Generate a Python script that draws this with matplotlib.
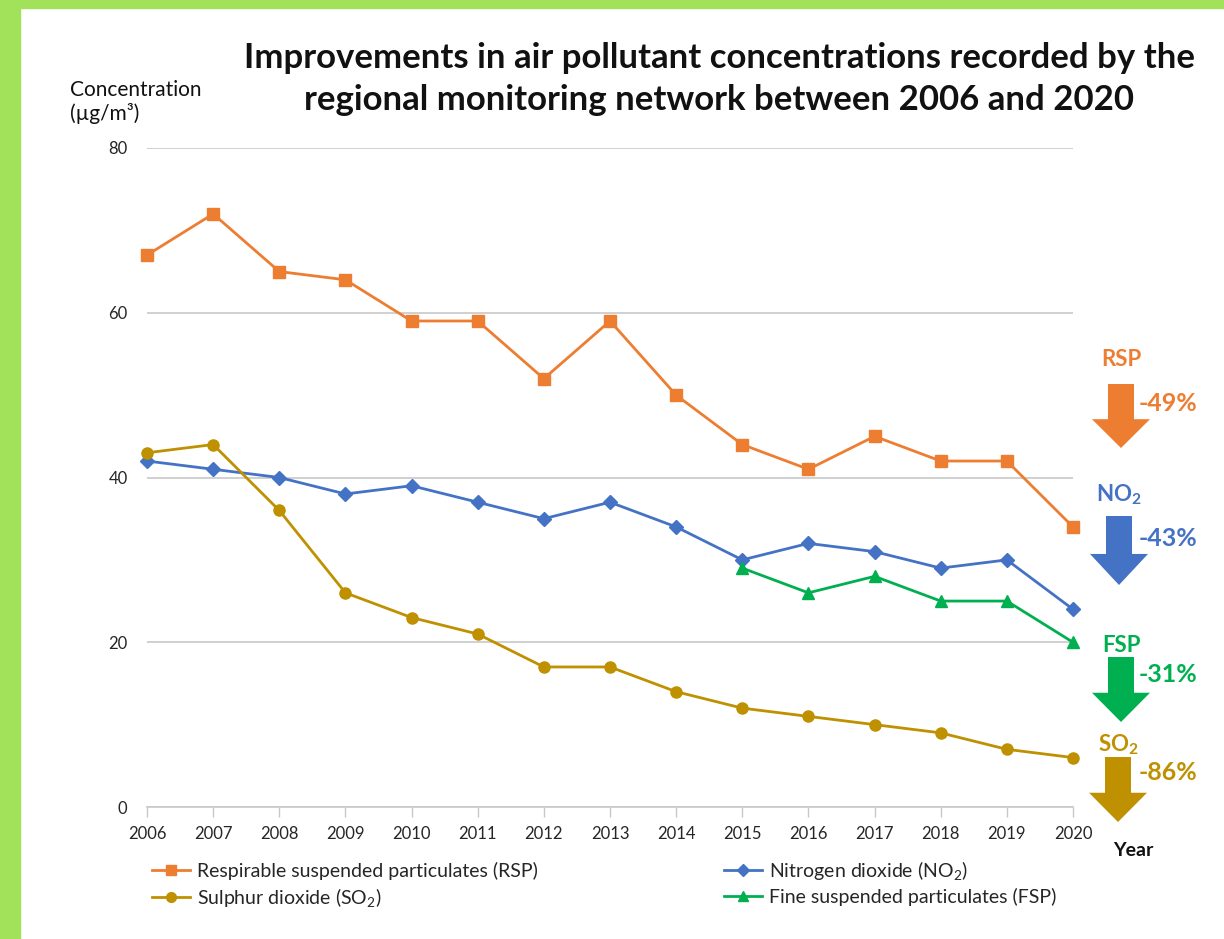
import matplotlib
matplotlib.use("Agg")
import matplotlib.pyplot as plt
from matplotlib.patches import Rectangle, FancyArrow
from matplotlib.lines import Line2D

plt.rcParams['font.family'] = ['Lato', 'DejaVu Sans']
plt.rcParams['mathtext.fontset'] = 'custom'
plt.rcParams['mathtext.rm'] = 'Lato'
plt.rcParams['mathtext.it'] = 'Lato'
plt.rcParams['mathtext.bf'] = 'Lato:bold'

# annual averages, µg/m3
years = list(range(2006, 2021))
rsp = [67, 72, 65, 64, 59, 59, 52, 59, 50, 44, 41, 45, 42, 42, 34]
no2 = [42, 41, 40, 38, 39, 37, 35, 37, 34, 30, 32, 31, 29, 30, 24]
so2 = [43, 44, 36, 26, 23, 21, 17, 17, 14, 12, 11, 10, 9, 7, 6]
fsp_years = list(range(2015, 2021))
fsp = [29, 26, 28, 25, 25, 20]

change_labels = ['RSP', r'NO$_\mathbf{2}$', 'FSP', r'SO$_\mathbf{2}$']
change_pct = ['-49%', '-43%', '-31%', '-86%']

c_rsp = '#ED7D31'
c_no2 = '#4472C4'
c_so2 = '#BF9000'
c_fsp = '#00B050'
c_grid = '#C8C8C8'
c_text = '#262626'

W, H = 1224, 939
fig = plt.figure(figsize=(W / 100, H / 100), dpi=100)
fig.patch.set_facecolor('white')

# green frame strips
green = '#A2E25A'
fig.patches.append(Rectangle((0, 0), 20 / W, 1, transform=fig.transFigure, color=green, zorder=0))
fig.patches.append(Rectangle((0, 1 - 8 / H), 1, 8 / H, transform=fig.transFigure, color=green, zorder=0))

ax = fig.add_axes([147 / W, 1 - 807 / H, (1073 - 147) / W, (807 - 148) / H])
ax.set_xlim(2006, 2020)
ax.set_ylim(0, 80)
for s in ['top', 'right', 'left']:
    ax.spines[s].set_visible(False)
ax.spines['bottom'].set_color(c_grid)
ax.spines['bottom'].set_linewidth(1.2)

ax.set_xticks(years)
ax.set_xticklabels([str(y) for y in years], fontsize=12, color=c_text)
ax.tick_params(axis='x', length=7, width=1, color=c_grid, pad=7)
ax.set_yticks([0, 20, 40, 60, 80])
ax.set_yticklabels(['0', '20', '40', '60', '80'], fontsize=12, color=c_text)
ax.tick_params(axis='y', length=0, pad=14)
ax.yaxis.grid(True, color=c_grid, lw=1.2)
ax.set_axisbelow(True)

lw = 2.0
ax.plot(years, rsp, color=c_rsp, lw=lw, marker='s', ms=8, zorder=3, clip_on=False)
ax.plot(years, no2, color=c_no2, lw=lw, marker='D', ms=7, zorder=3, clip_on=False)
ax.plot(years, so2, color=c_so2, lw=lw, marker='o', ms=8, zorder=3, clip_on=False)
ax.plot(fsp_years, fsp, color=c_fsp, lw=lw, marker='^', ms=8, zorder=3, clip_on=False)

fig.text(719 / W, 1 - 58 / H, 'Improvements in air pollutant concentrations recorded by the',
         ha='center', va='center', fontsize=25, fontweight='bold', color='#111111')
fig.text(719 / W, 1 - 100 / H, 'regional monitoring network between 2006 and 2020',
         ha='center', va='center', fontsize=25, fontweight='bold', color='#111111')
fig.text(70 / W, 1 - 90 / H, 'Concentration', ha='left', va='center', fontsize=15, color='#111111')
fig.text(70 / W, 1 - 113 / H, '(µg/m³)', ha='left', va='center', fontsize=15, color='#111111')
fig.text(1113 / W, 1 - 850 / H, 'Year', ha='left', va='center', fontsize=14, fontweight='bold', color='#111111')

# percentage change arrows on the right
ann_colors = [c_rsp, c_no2, c_fsp, c_so2]
label_y = [360, 495, 645, 745]
pct_y = [403, 538, 675, 773]
arrow_top = [384, 516, 657, 757]
arrow_tip = [448, 585, 722, 822]
arrow_x = [1121, 1119, 1121, 1118]
for lab, pct, col, ly, py, at, tip, axx in zip(change_labels, change_pct, ann_colors,
                                                label_y, pct_y, arrow_top, arrow_tip, arrow_x):
    fig.text(axx / W, 1 - ly / H, lab, ha='center', va='center', fontsize=16,
             fontweight='bold', color=col)
    fig.text(1139 / W, 1 - py / H, pct, ha='left', va='center', fontsize=18,
             fontweight='bold', color=col)
    length = (tip - at) / H
    arr = FancyArrow(axx / W, 1 - at / H, 0, -length, width=26 / W, head_width=58 / W,
                     head_length=length * 0.45, length_includes_head=True,
                     transform=fig.transFigure, color=col, lw=0)
    fig.patches.append(arr)

handles = [
    Line2D([], [], color=c_rsp, lw=lw, marker='s', ms=7),
    Line2D([], [], color=c_so2, lw=lw, marker='o', ms=7),
    Line2D([], [], color=c_no2, lw=lw, marker='D', ms=6),
    Line2D([], [], color=c_fsp, lw=lw, marker='^', ms=7),
]
labels = [
    'Respirable suspended particulates (RSP)',
    'Sulphur dioxide (SO$_2$)',
    'Nitrogen dioxide (NO$_2$)',
    'Fine suspended particulates (FSP)',
]
fig.legend(handles, labels, loc='upper left', bbox_to_anchor=(152 / W, 1 - 859 / H), ncol=2,
           frameon=False, fontsize=14, handlelength=1.95, handletextpad=0.36,
           columnspacing=9.6, labelspacing=0.3, borderpad=0, borderaxespad=0,
           labelcolor=c_text)

fig.savefig('out.png', dpi=100)
